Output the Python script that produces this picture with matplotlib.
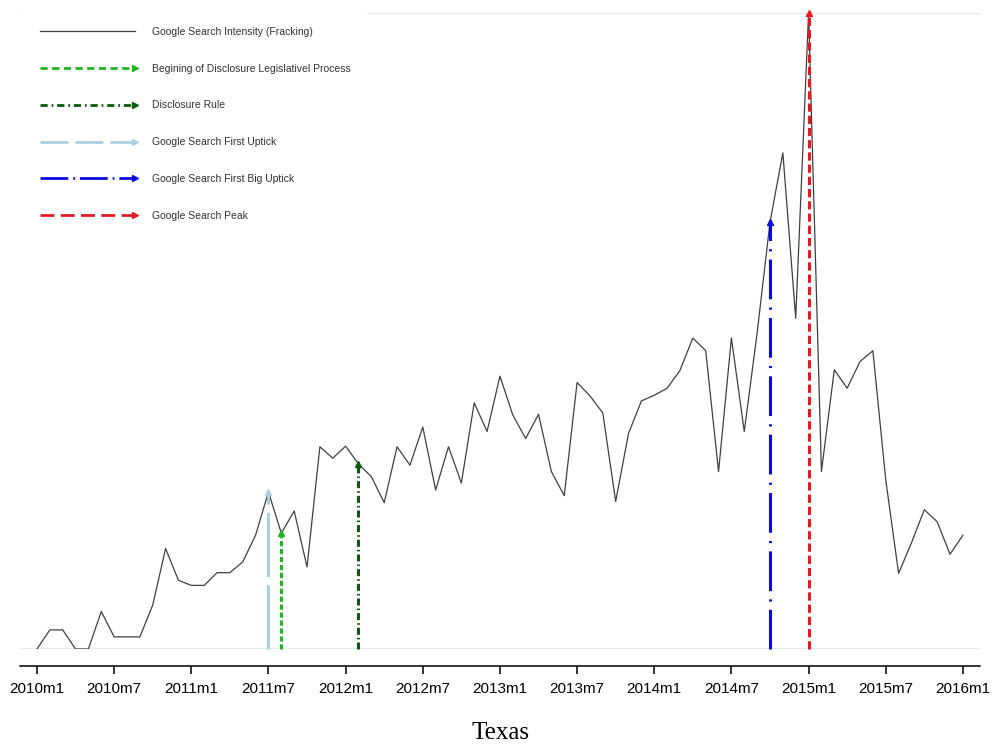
import numpy as np
import matplotlib
matplotlib.use("Agg")
import matplotlib.pyplot as plt
from matplotlib.lines import Line2D
from matplotlib.legend_handler import HandlerLine2D

plt.rcParams["font.family"] = ["Liberation Sans", "DejaVu Sans"]

# monthly Google search intensity, 2010m1 .. 2016m1
intensity = [0, 3.0, 3.0, 0, 0, 5.9, 1.9, 1.9, 1.9, 6.9, 15.8, 10.8,
             10.0, 10.0, 12.0, 12.0, 13.7, 17.9, 24.7, 18.2, 21.7, 12.9, 31.8, 30.0,
             31.9, 29.1, 27.1, 23.0, 31.8, 28.9, 34.9, 25.0, 31.8, 26.1, 38.7, 34.2,
             42.9, 36.8, 33.1, 36.9, 27.9, 24.1, 41.9, 39.8, 37.1, 23.2, 33.9, 39.0,
             39.9, 41.0, 43.8, 48.9, 46.9, 27.9, 48.9, 34.2, 49.7, 67.1, 78.0, 52.0,
             100, 27.9, 43.9, 41.0, 45.2, 46.9, 26.6, 11.9, 16.7, 21.9, 20.0, 14.9,
             17.9]
months = np.arange(len(intensity))
tick_pos = np.arange(0, 73, 6)
tick_labels = ["%dm%d" % (2010 + m // 12, 1 if m % 12 == 0 else 7) for m in tick_pos]

# events: label, month index, colour
event_labels = ["Begining of Disclosure Legislativel Process", "Disclosure Rule",
                "Google Search First Uptick", "Google Search First Big Uptick",
                "Google Search Peak"]
event_month = [19, 25, 18, 57, 60]
event_color = ["#22b422", "#0b5a0b", "#a8d0e0", "#0a0ae0", "#e41a22"]
# dash patterns for the plot and (shorter) for the legend
plot_dash = [(0, (1.7, 0.9)), (0, (2.3, 1.0, 0.5, 1.0)), (0, (21, 2.7)),
             (0, (13, 2.7, 0.7, 2.7)), (0, (2.7, 1.3))]
leg_dash = [(0, (2.6, 1.6)), (0, (2.6, 1.4, 0.6, 1.4)), (0, (10, 2.6)),
            (0, (10, 1.8, 0.6, 1.8)), (0, (5, 2.3))]


class EndArrow(HandlerLine2D):
    # legend line with the marker only at its right end
    def create_artists(self, *args, **kwargs):
        arts = super().create_artists(*args, **kwargs)
        for a in arts:
            a.set_markevery([len(a.get_xdata()) - 1])
        return arts


fig = plt.figure(figsize=(9.92, 7.44), dpi=100)
ax = fig.add_axes([20 / 992, 95 / 744, 960 / 992, 636 / 744])

# light reference lines at 0 and 100
for yv in (0, 100):
    ax.axhline(yv, color="#e4eaec", lw=1.6, zorder=0)

ax.plot(months, intensity, color="#404040", lw=0.9, zorder=2)

for lab, m, c, ls in zip(event_labels, event_month, event_color, plot_dash):
    ax.plot([m, m], [0, intensity[m]], color=c, ls=ls, lw=2.2, zorder=3,
            marker="^", ms=4, markevery=[1], clip_on=False)

ax.set_xlim(-1.32, 73.33)
ax.set_ylim(0, 100)
for s in ("left", "top", "right"):
    ax.spines[s].set_visible(False)
ax.spines["bottom"].set_position(("outward", 12.5))
ax.spines["bottom"].set_linewidth(1.1)
ax.set_yticks([])
ax.set_xticks(tick_pos)
ax.set_xticklabels(tick_labels, fontsize=11)
ax.tick_params(axis="x", length=5.5, width=1.1, pad=6)

# legend
handles = [Line2D([], [], color="#404040", lw=0.9)]
for c, ls in zip(event_color, leg_dash):
    handles.append(Line2D([], [], color=c, ls=ls, lw=2.0, marker=">", ms=4))
labels = ["Google Search Intensity (Fracking)"] + event_labels
leg = ax.legend(handles, labels, loc="upper left",
                bbox_to_anchor=(21 / 992, 1 - 11 / 744),
                bbox_transform=fig.transFigure, fontsize=7.5, numpoints=2,
                handlelength=9.7, handletextpad=1.4, labelspacing=2.58,
                borderpad=1.5, borderaxespad=0.0, frameon=True,
                fancybox=False, framealpha=1,
                handler_map={Line2D: EndArrow()})
leg.get_frame().set_facecolor("white")
leg.get_frame().set_edgecolor("none")
for t in leg.get_texts():
    t.set_color("#333333")

fig.text(0.505, 1 - 733 / 744, "Texas", ha="center", va="center",
         family="Liberation Serif", fontsize=18)

fig.savefig("out.png", dpi=100)
